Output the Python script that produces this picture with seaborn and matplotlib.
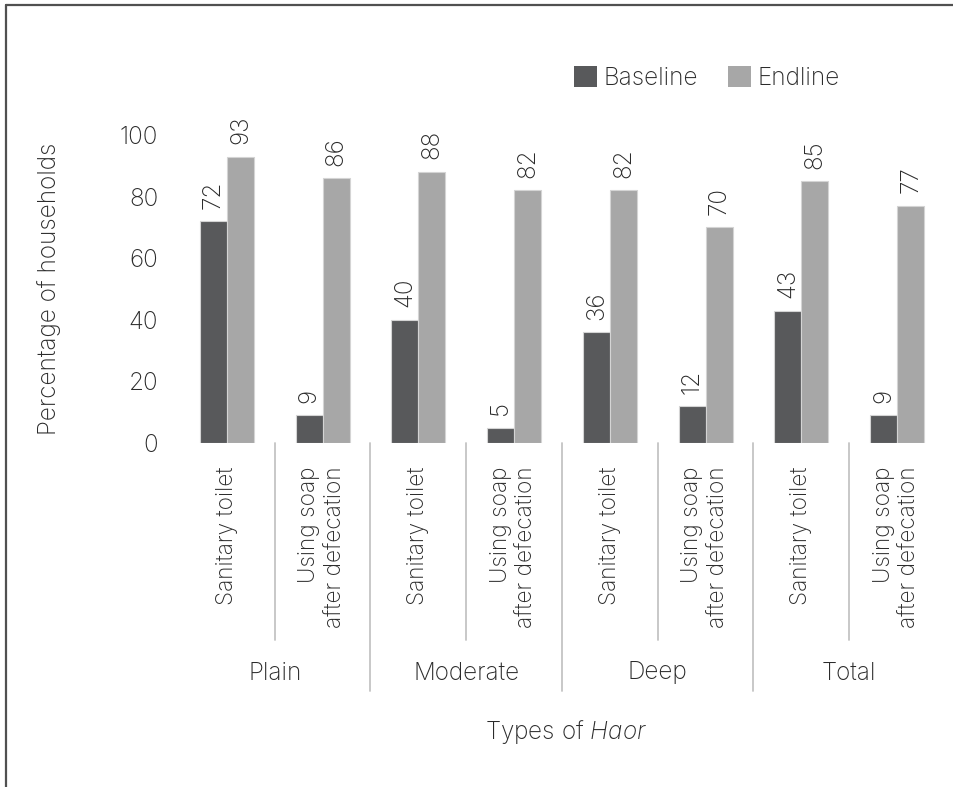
import matplotlib
matplotlib.use("Agg")
import matplotlib.pyplot as plt
import matplotlib.transforms as mtransforms
from matplotlib.lines import Line2D
from matplotlib.patches import Patch
import pandas as pd
import seaborn as sns

# ---- data -------------------------------------------------------------
groups = ["Plain", "Moderate", "Deep", "Total"]
indicators = ["Sanitary toilet", "Using soap\nafter defecation"]
baseline = [72, 9, 40, 5, 36, 12, 43, 9]
endline = [93, 86, 88, 82, 82, 70, 85, 77]
series = ["Baseline", "Endline"]
y_ticks = [0, 20, 40, 60, 80, 100]

# ---- styling ----------------------------------------------------------
sns.set_theme(style="white")
FONT = "Inter"
plt.rcParams["font.family"] = [FONT, "DejaVu Sans"]
plt.rcParams["font.weight"] = "light"
plt.rcParams["axes.labelweight"] = "light"
plt.rcParams["mathtext.fontset"] = "custom"
plt.rcParams["mathtext.rm"] = f"{FONT}:light"
plt.rcParams["mathtext.it"] = f"{FONT}:italic:light"
TEXT = "#2b2b2b"
FS = 17.5
FS_CAT = 16.3
colors = {"Baseline": "#58595b", "Endline": "#a7a7a7"}

# long-form table: one row per bar
cats = [f"{g}|{ind}" for g in groups for ind in indicators]
df = pd.DataFrame({
    "category": cats * 2,
    "series": ["Baseline"] * len(cats) + ["Endline"] * len(cats),
    "value": baseline + endline,
})

W, H = 954, 787
fig = plt.figure(figsize=(W / 100, H / 100), dpi=100)
ax = fig.add_axes([179 / W, 1 - 443 / H, 766 / W, 308 / H])

sns.barplot(data=df, x="category", y="value", hue="series", order=cats,
            hue_order=series, palette=colors, width=0.565, saturation=1,
            edgecolor="#d4d4d4", linewidth=0.8, legend=False, ax=ax)

ax.set_xlim(-0.5, len(cats) - 0.5)
ax.set_ylim(0, 100)
ax.set_yticks(y_ticks)
ax.tick_params(axis="y", length=0, pad=15, labelsize=FS, labelcolor=TEXT)
ax.tick_params(axis="x", length=0, pad=17, labelsize=FS_CAT, labelcolor=TEXT)
ax.set_xticks(range(len(cats)))
ax.set_xticklabels([c.split("|")[1] for c in cats], rotation=90,
                   va="top", ha="center", multialignment="right",
                   linespacing=1.25)
for s in ax.spines.values():
    s.set_visible(False)

# value labels above each bar
for cont in ax.containers:
    ax.bar_label(cont, fmt="%d", padding=9, rotation=90, fontsize=FS,
                 color=TEXT, clip_on=False)

# axis titles
ax.set_ylabel("Percentage of households", fontsize=FS, color=TEXT,
              fontweight="light")
ax.yaxis.set_label_coords(-0.154, 0.5)
ax.set_xlabel(r"Types of $\mathit{Haor}$", fontsize=FS, color=TEXT,
              fontweight="light")
ax.xaxis.label.set_va("center")
ax.xaxis.set_label_coords(0.505, (443 - 732) / 308)

# group labels and separator lines below the axis
blend = mtransforms.blended_transform_factory(ax.transData, ax.transAxes)
for i, g in enumerate(groups):
    ax.text(2 * i + 0.5, (443 - 673) / 308, g, transform=blend, ha="center",
            va="center", fontsize=FS, color=TEXT)
for k in range(len(cats) - 1):
    x = k + 0.5
    y_end = (443 - 691) / 308 if k % 2 == 1 else (443 - 640) / 308
    ax.add_line(Line2D([x, x], [0, y_end], transform=blend, color="#c4c4c4",
                       lw=1.3, clip_on=False))

# legend
handles = [Patch(facecolor=colors[s], edgecolor="none", label=s) for s in series]
fig.legend(handles=handles, loc="center left",
           bbox_to_anchor=(574 / W, 1 - 78 / H), ncol=2, frameon=False,
           fontsize=FS, handlelength=0.95, handleheight=0.92,
           handletextpad=0.25, columnspacing=1.25, borderpad=0,
           borderaxespad=0, labelcolor=TEXT)

# figure frame (top and left edges)
fig.add_artist(Line2D([6 / W, 1], [1 - 5 / H, 1 - 5 / H],
                      transform=fig.transFigure, color="#505050", lw=1.6))
fig.add_artist(Line2D([6 / W, 6 / W], [0, 1 - 5 / H],
                      transform=fig.transFigure, color="#505050", lw=1.6))

fig.savefig("out.png", dpi=100, facecolor="white")
